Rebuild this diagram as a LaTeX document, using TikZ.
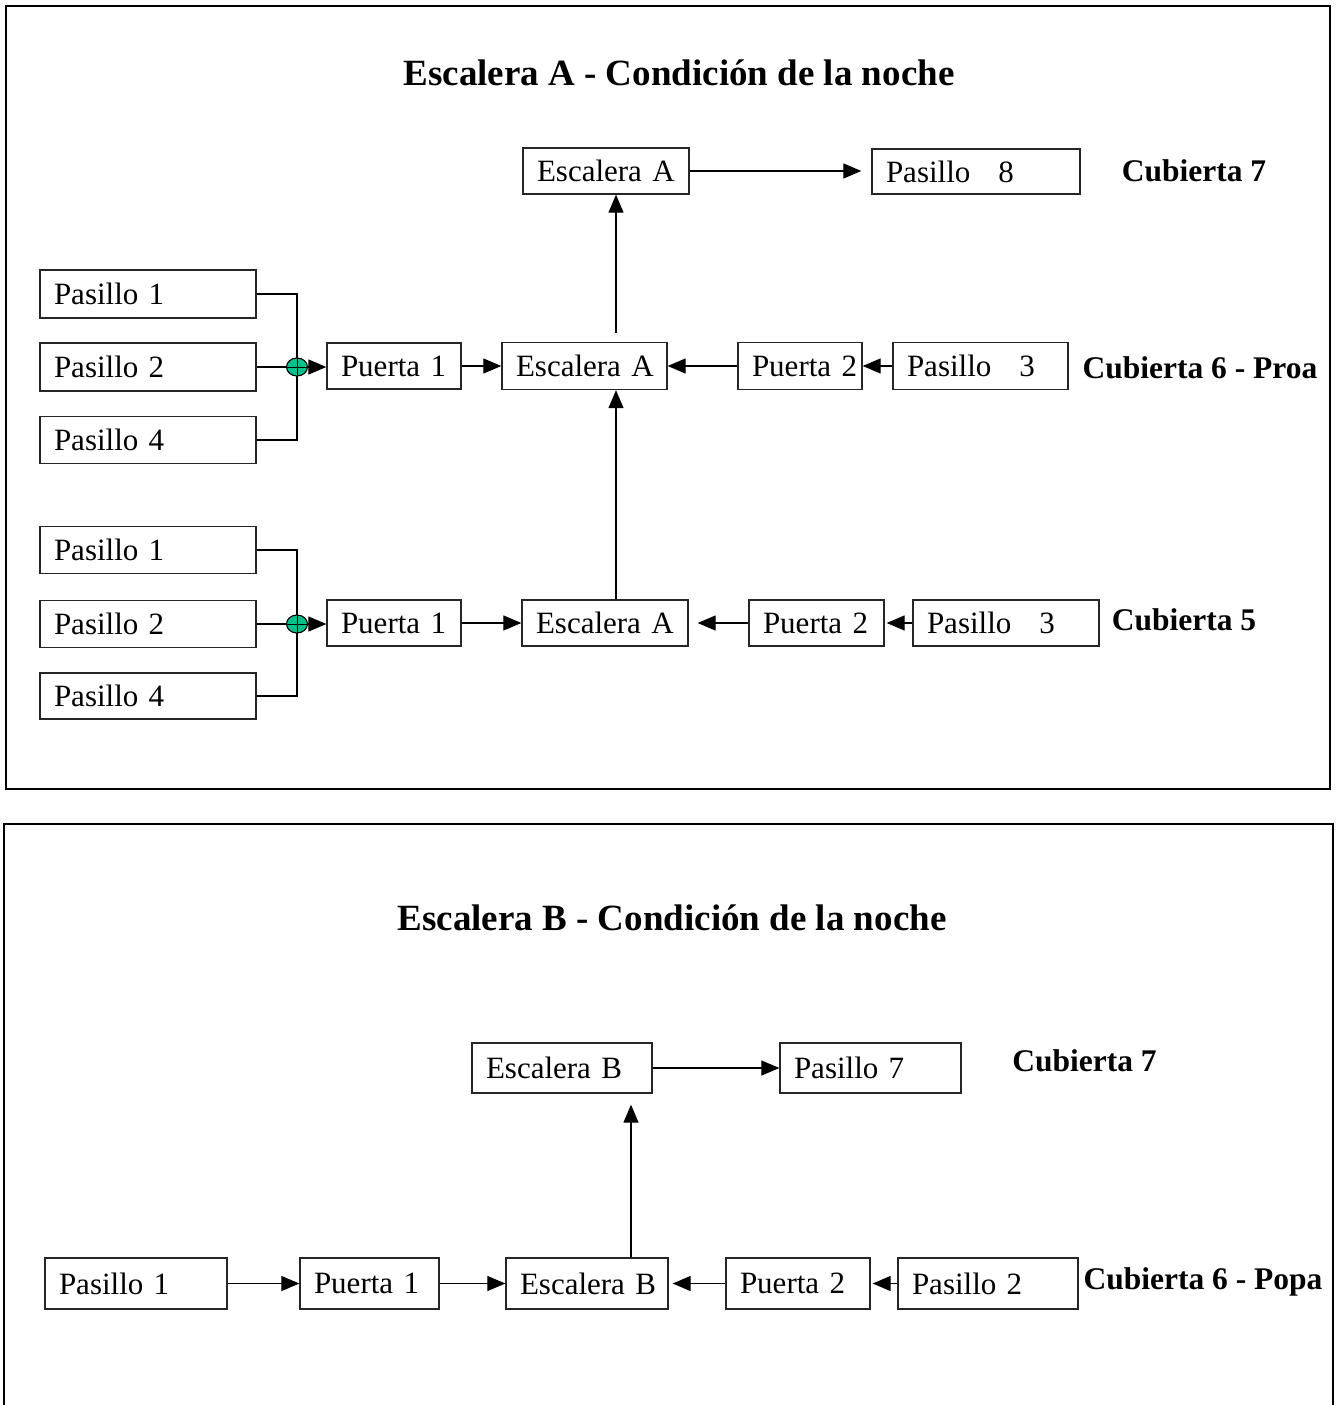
\documentclass[tikz,border=0pt]{standalone}
\usepackage{fontspec}
\setmainfont{Liberation Serif}
\usetikzlibrary{arrows.meta,calc,shapes.geometric}
\definecolor{joint}{RGB}{0,192,140}

\begin{document}
\begin{tikzpicture}[x=1pt,y=-1pt,
  box/.style={draw=black!85, line width=1.3pt, inner xsep=14pt, inner ysep=0pt,
    align=left, font=\fontsize{31}{36}\selectfont, anchor=center},
  lbl/.style={font=\bfseries\fontsize{31.5}{36}\selectfont, inner sep=0pt},
  ttl/.style={font=\bfseries\fontsize{37}{42}\selectfont, inner sep=0pt},
  arr/.style={line width=1.2pt, -{Triangle[length=18pt,width=15pt]}},
  ln/.style={line width=1.2pt},
  frm/.style={line width=2.5pt},
  jn/.style={ellipse, draw=black, line width=1.1pt, fill=joint,
    minimum width=21pt, minimum height=18pt, inner sep=0pt}]
\useasboundingbox (0,0) rectangle (1338,1405);

% ---------- Escalera A ----------
\draw[frm] (6,6) rectangle (1330,789);
\node[ttl] (tA) at (679,73) {Escalera A - Condición de la noche};

% deck 7
\node[box, minimum height=46pt, text width=138pt] (eaT) at (606,171) {\mbox{Escalera A}};
\node[box, minimum height=45pt, text width=180pt] (p8) at (976,171.5) {\mbox{Pasillo\hspace{28pt}8}};
\node[lbl] (c7a) at (1194,171) {Cubierta 7};

% deck 6 - bow
\node[box, minimum height=48pt, text width=188pt] (p1a) at (148,294) {\mbox{Pasillo 1}};
\node[box, minimum height=48pt, text width=188pt] (p2a) at (148,367) {\mbox{Pasillo 2}};
\node[box, minimum height=47pt, text width=188pt] (p4a) at (148,440) {\mbox{Pasillo 4}};
\node[box, minimum height=46pt, text width=106pt] (pu1a) at (394,366) {\mbox{Puerta 1}};
\node[box, minimum height=47pt, text width=137pt] (eaM) at (584.5,366) {\mbox{Escalera A}};
\node[box, minimum height=47pt, text width=96pt] (pu2a) at (800,366) {\mbox{Puerta 2}};
\node[box, minimum height=47pt, text width=147pt] (p3a) at (980.5,366) {\mbox{Pasillo\hspace{28pt}3}};
\node[lbl] (c6a) at (1200,368) {Cubierta 6 - Proa};

% deck 5
\node[box, minimum height=47pt, text width=188pt] (p1b) at (148,550) {\mbox{Pasillo 1}};
\node[box, minimum height=47pt, text width=188pt] (p2b) at (148,624) {\mbox{Pasillo 2}};
\node[box, minimum height=46pt, text width=188pt] (p4b) at (148,696) {\mbox{Pasillo 4}};
\node[box, minimum height=46pt, text width=106pt] (pu1b) at (394,623) {\mbox{Puerta 1}};
\node[box, minimum height=46pt, text width=138pt] (eaL) at (605,623) {\mbox{Escalera A}};
\node[box, minimum height=46pt, text width=107pt] (pu2b) at (816.5,623) {\mbox{Puerta 2}};
\node[box, minimum height=46pt, text width=158pt] (p3b) at (1006,623) {\mbox{Pasillo\hspace{28pt}3}};
\node[lbl] (c5) at (1184,620) {Cubierta 5};

% merging corridors into the first door
\coordinate (busA) at (297,0);
\draw[ln] (p1a.east) -| (busA |- p4a.east) -- (p4a.east);
\draw[ln] (p2a.east) -- (p2a.east -| busA);
\node[jn] (ja) at (p2a.east -| busA) {};
\draw[line width=1pt] (ja.north) -- (ja.south) (ja.west) -- (ja.east);
\draw[arr] (ja.east) -- (ja.east -| pu1a.west);

\draw[ln] (p1b.east) -| (busA |- p4b.east) -- (p4b.east);
\draw[ln] (p2b.east) -- (p2b.east -| busA);
\node[jn] (jb) at (p2b.east -| busA) {};
\draw[line width=1pt] (jb.north) -- (jb.south) (jb.west) -- (jb.east);
\draw[arr] (jb.east) -- (jb.east -| pu1b.west);

% flows towards the stair
\coordinate (vA) at (616,0);
\draw[arr] (pu1a.east) -- (pu1a.east -| eaM.west);
\draw[arr] (pu2a.west) -- (pu2a.west -| eaM.east);
\draw[arr] (p3a.west) -- (p3a.west -| pu2a.east);
\draw[arr] (pu1b.east) -- (pu1b.east -| eaL.west);
\draw[arr, shorten >=9pt] (pu2b.west) -- (pu2b.west -| eaL.east);
\draw[arr, shorten >=2pt] (p3b.west) -- (p3b.west -| pu2b.east);
\draw[arr] (eaL.north -| vA) -- (eaM.south -| vA);
\draw[arr, shorten <=9pt] (eaM.north -| vA) -- (eaT.south -| vA);
\draw[arr, shorten >=10pt] (eaT.east) -- (eaT.east -| p8.west);

% ---------- Escalera B ----------
\draw[line width=2pt] (4,1415) -- (4,824) -- (1333,824) -- (1333,1415);
\node[ttl] (tB) at (672,918) {Escalera B - Condición de la noche};

\node[box, minimum height=50pt, text width=152pt] (eBT) at (562,1068) {\mbox{Escalera B}};
\node[box, minimum height=50pt, text width=153pt] (p7) at (870.5,1068) {\mbox{Pasillo 7}};
\node[lbl] (c7b) at (1084.5,1061) {Cubierta 7};

\node[box, minimum height=51pt, text width=154pt] (p1c) at (136,1283.5) {\mbox{Pasillo 1}};
\node[box, minimum height=51pt, text width=111pt] (pu1c) at (369.5,1283.5) {\mbox{Puerta 1}};
\node[box, minimum height=51pt, text width=134pt] (eBL) at (587,1283.5) {\mbox{Escalera B}};
\node[box, minimum height=51pt, text width=116pt] (pu2c) at (798,1283.5) {\mbox{Puerta 2}};
\node[box, minimum height=51pt, text width=152pt] (p2c) at (988,1283.5) {\mbox{Pasillo 2}};
\node[lbl] (c6b) at (1203,1282) {Cubierta 6 - Popa};

\coordinate (vB) at (631,0);
\draw[arr] (p1c.east) -- (p1c.east -| pu1c.west);
\draw[arr] (pu1c.east) -- (pu1c.east -| eBL.west);
\draw[arr, shorten >=4pt] (pu2c.west) -- (pu2c.west -| eBL.east);
\draw[arr, shorten >=2pt] (p2c.west) -- (p2c.west -| pu2c.east);
\draw[arr, shorten >=11pt] (eBL.north -| vB) -- (eBT.south -| vB);
\draw[arr] (eBT.east) -- (eBT.east -| p7.west);
\end{tikzpicture}
\end{document}
